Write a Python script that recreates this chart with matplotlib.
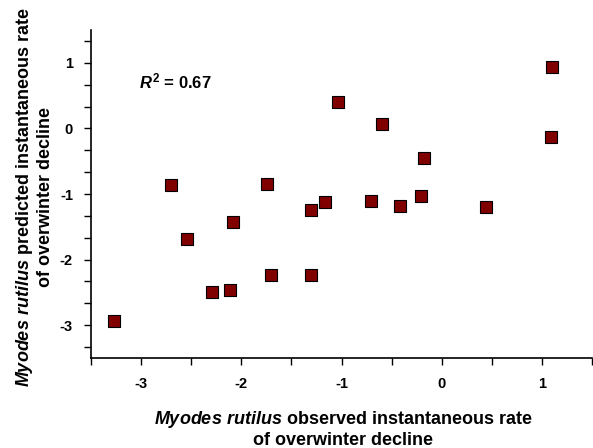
import matplotlib
matplotlib.use("Agg")
import matplotlib.pyplot as plt
from matplotlib.ticker import MultipleLocator

plt.rcParams['font.family'] = ['Liberation Sans', 'DejaVu Sans']
plt.rcParams['mathtext.fontset'] = 'custom'
plt.rcParams['mathtext.rm'] = 'Liberation Sans:bold'
plt.rcParams['mathtext.bf'] = 'Liberation Sans:bold'
plt.rcParams['mathtext.it'] = 'Liberation Sans:italic:bold'
plt.rcParams['mathtext.bfit'] = 'Liberation Sans:italic:bold'

observed = [1.10, -1.03, -0.60, 1.09, -0.18, -1.30, -1.16, -0.71, -0.42, -0.21,
            0.44, -2.70, -1.74, -2.08, -2.54, -3.27, -2.29, -2.11, -1.70, -1.30]
predicted = [0.93, 0.40, 0.065, -0.13, -0.45, -1.24, -1.12, -1.10, -1.18, -1.03,
             -1.20, -0.87, -0.85, -1.42, -1.69, -2.94, -2.50, -2.46, -2.24, -2.24]
x_ticks = [-3, -2, -1, 0, 1]
y_ticks = [-3, -2, -1, 0, 1]

fig = plt.figure(figsize=(5.93, 4.48), dpi=100)
ax = fig.add_axes([91/593, 90/448, 501/593, 328/448])

ax.scatter(observed, predicted, marker='s', s=85, c='#800000',
           edgecolors='black', linewidths=0.8, zorder=3)

ax.set_xlim(-3.5, 1.5)
ax.set_ylim(-3.5, 1.5)
ax.set_xticks(x_ticks)
ax.set_yticks(y_ticks)
ax.xaxis.set_minor_locator(MultipleLocator(0.5))
ax.yaxis.set_minor_locator(MultipleLocator(1/3))
ax.set_xticklabels([str(t) for t in x_ticks], fontsize=10.5, fontweight='bold')
ax.set_yticklabels([str(t) for t in y_ticks], fontsize=10.5, fontweight='bold')
ax.tick_params(which='both', direction='out', length=5, width=1, color='black')
ax.tick_params(axis='x', pad=9)
ax.tick_params(axis='y', pad=8)

for s in ['top', 'right']:
    ax.spines[s].set_visible(False)
for s in ['left', 'bottom']:
    ax.spines[s].set_linewidth(1.2)

ax.text(-3.02, 0.72, r'$R^{2}$' + ' = 0.67', fontsize=12,
        fontweight='bold', ha='left', va='center')

fig.text(343/593, (448-429)/448,
         r'$Myodes\ rutilus$' + ' observed instantaneous rate\nof overwinter decline',
         ha='center', va='center', fontsize=13, fontweight='bold', linespacing=1.1)
fig.text(34/593, (448-197)/448,
         r'$Myodes\ rutilus$' + ' predicted instantaneous rate\nof overwinter decline',
         ha='center', va='center', rotation=90, fontsize=13, fontweight='bold', linespacing=1.1)

fig.savefig('out.png', dpi=100)
